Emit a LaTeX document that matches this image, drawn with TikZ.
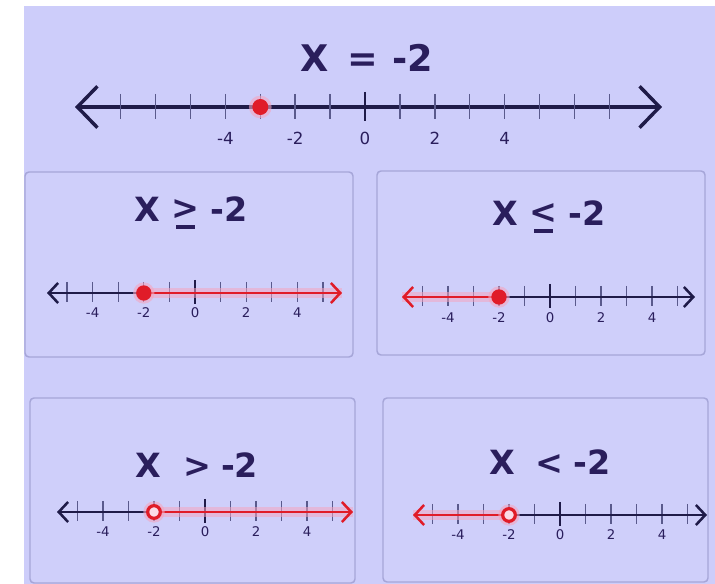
\documentclass[tikz,border=0pt]{standalone}
\usepackage{fontspec}
\setmainfont{DejaVu Sans}
\usetikzlibrary{arrows.meta}
\definecolor{bg}{HTML}{CDCDFA}
\definecolor{panelfill}{HTML}{CFCFFA}
\definecolor{panelborder}{HTML}{A6A6D8}
\definecolor{ink}{HTML}{2A1E5C}
\definecolor{linec}{HTML}{1F1B48}
\definecolor{tickc}{HTML}{5A5A8C}
\definecolor{redc}{HTML}{E01C28}
\definecolor{glow}{HTML}{F4A6C0}
\newcommand{\barunder}[1]{\ooalign{\hfil\raisebox{0.06em}{#1}\hfil\cr\hfil\rule[-0.2em]{0.56em}{0.1em}\hfil\cr}}
% #1 prefix, #2 y, #3 zero x, #4 unit, #5 tick count n, #6 size (big/sm), #7 up, #8 down, #9 label offset
\newcommand{\ticksandlabels}[9]{%
  \foreach \k in {-#5,...,#5} {%
    \draw[tick#6] ({#3+\k*#4},{#2-#7}) -- ({#3+\k*#4},{#2+#8});
  }
  \draw[tick#6, draw=linec, line width=1.6pt] (#3,{#2-#7-2}) -- (#3,{#2+#8+2});
  \foreach \v/\nm in {-4/m4,-2/m2,0/z,2/p2,4/p4} {%
    \node[lab#6] (#1\nm) at ({#3+\v*#4},{#2+#9}) {\v};
  }
}
\begin{document}
\begin{tikzpicture}[x=0.75pt,y=-0.75pt,
  panel/.style={draw=panelborder,line width=1.1pt,rounded corners=3pt,fill=panelfill},
  ttlbig/.style={font=\fontsize{27.5}{30}\selectfont\bfseries, text=ink, inner sep=0},
  ttlsm/.style={font=\fontsize{25}{27}\selectfont\bfseries, text=ink, inner sep=0},
  labbig/.style={font=\fontsize{12.5}{14}\selectfont, text=ink, inner sep=0},
  labsm/.style={font=\fontsize{10}{11}\selectfont, text=ink, inner sep=0},
  tickbig/.style={draw=tickc, line width=1.1pt},
  ticksm/.style={draw=tickc, line width=0.9pt},
  axisbig/.style={draw=linec, line width=2.6pt},
  axissm/.style={draw=linec, line width=1.9pt},
  redsm/.style={draw=redc, line width=1.9pt},
  glowsm/.style={draw=glow, line width=7pt, opacity=0.55},
  tipbig/.style={arrows={-Straight Barb[length=15pt,width=31pt]}},
  tipsm/.style={arrows={-Straight Barb[length=7pt,width=15pt]}},
  dotfull/.style={circle, fill=redc, inner sep=0, minimum size=11.5pt},
  dotopen/.style={circle, draw=redc, line width=2.4pt, fill=white!60!glow, inner sep=0, minimum size=9.5pt},
  halo/.style={circle, fill=glow, opacity=0.6, inner sep=0, minimum size=16pt}
]
\useasboundingbox (0,0) rectangle (715,584);
\fill[white] (0,0) rectangle (715,584);
\fill[bg] (24,6) rectangle (715,584);

% ---------- top: X = -2 ----------
\node[ttlbig] (ttop) at (367,58) {X\hspace{0.5em}=\hspace{0.4em}-2};
\coordinate (TL) at (75,107);
\coordinate (TR) at (662,107);
\coordinate (Tm) at (365,107);
\draw[axisbig,tipbig] (Tm) -- (TL);
\draw[axisbig,tipbig] (Tm) -- (TR);
\ticksandlabels{T}{107}{365}{34.9}{7}{big}{13}{12}{31}
\node[halo, minimum size=17pt] (Thalo) at (260.3,107) {};
\node[dotfull, minimum size=12pt] (Tdot) at (260.3,107) {};

% ---------- panel A: X >= -2 ----------
\draw[panel] (25,172) rectangle (353,357);
\node[ttlsm, anchor=base] (tA) at (191,222) {X \barunder{>} -2};
\coordinate (AL) at (47,293);
\coordinate (AR) at (342,293);
\ticksandlabels{A}{293}{195}{25.6}{5}{sm}{11}{9}{20}
\node[inner sep=0] (Ad) at (143.8,293) {};
\draw[axissm,tipsm] (Ad.center) -- (AL);
\draw[glowsm] (Ad.center) -- (AR);
\draw[redsm,tipsm] (Ad.center) -- (AR);
\node[halo] (Ahalo) at (Ad) {};
\node[dotfull] (Adot) at (Ad) {};

% ---------- panel B: X <= -2 ----------
\draw[panel] (377,171) rectangle (705,355);
\node[ttlsm, anchor=base] (tB) at (549,226) {X \barunder{<} -2};
\coordinate (BL) at (402,297);
\coordinate (BR) at (695,297);
\ticksandlabels{B}{297}{550}{25.5}{5}{sm}{11}{9}{21}
\node[inner sep=0] (Bd) at (499,297) {};
\draw[axissm,tipsm] (Bd.center) -- (BR);
\draw[glowsm] (Bd.center) -- (BL);
\draw[redsm,tipsm] (Bd.center) -- (BL);
\node[halo] (Bhalo) at (Bd) {};
\node[dotfull] (Bdot) at (Bd) {};

% ---------- panel C: X > -2 ----------
\draw[panel] (30,398) rectangle (355,583);
\node[ttlsm] (tC) at (197,465) {X\hspace{0.65em}>\hspace{0.3em}-2};
\coordinate (CL) at (57,512);
\coordinate (CR) at (353,512);
\ticksandlabels{C}{512}{205}{25.5}{5}{sm}{11}{9}{20}
\node[inner sep=0] (Cd) at (154,512) {};
\draw[axissm,tipsm] (Cd.center) -- (CL);
\draw[glowsm] (Cd.center) -- (CR);
\draw[redsm,tipsm] (Cd.center) -- (CR);
\node[halo] (Chalo) at (Cd) {};
\node[dotopen] (Cdot) at (Cd) {};

% ---------- panel D: X < -2 ----------
\draw[panel] (383,398) rectangle (708,582);
\node[ttlsm] (tD) at (550,462) {X\hspace{0.6em}<\hspace{0.3em}-2};
\coordinate (DL) at (413,515);
\coordinate (DR) at (707,515);
\ticksandlabels{D}{515}{560}{25.5}{5}{sm}{11}{9}{20}
\node[inner sep=0] (Dd) at (509,515) {};
\draw[axissm,tipsm] (Dd.center) -- (DR);
\draw[glowsm] (Dd.center) -- (DL);
\draw[redsm,tipsm] (Dd.center) -- (DL);
\node[halo] (Dhalo) at (Dd) {};
\node[dotopen] (Ddot) at (Dd) {};
\end{tikzpicture}
\end{document}
